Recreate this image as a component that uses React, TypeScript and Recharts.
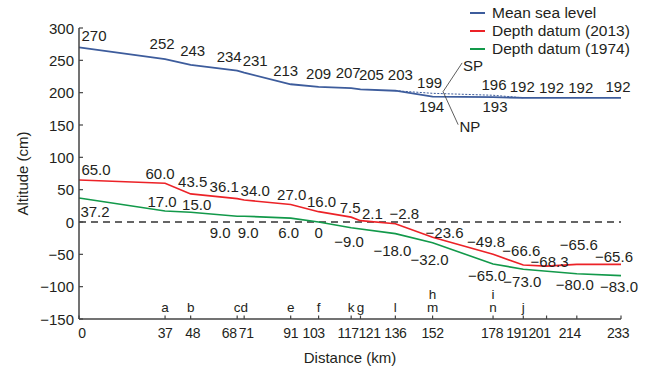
import React from "react";
import {
  LineChart,
  Line,
  XAxis,
  YAxis,
  ReferenceLine,
  ReferenceDot,
  LabelList,
} from "recharts";

// distance along the river (km)
const distance = [0, 37, 48, 68, 71, 91, 103, 117, 121, 136, 152, 178, 191, 201, 214, 233];
// mean sea level, NP branch (solid)
const meanSeaLevel = [270, 252, 243, 234, 231, 213, 209, 207, 205, 203, 194, 193, 192, 192, 192, 192];
// mean sea level, SP branch (dotted)
const meanSeaLevelSP = [null, null, null, null, null, null, null, null, null, 203, 199, 196, 192, null, null, null];
const datum2013 = [65.0, 60.0, 43.5, 36.1, 34.0, 27.0, 16.0, 7.5, 2.1, -2.8, -23.6, -49.8, -66.6, -68.3, -65.6, -65.6];
const datum1974 = [37.2, 17.0, 15.0, 9.0, 9.0, 6.0, 0, -9.0, null, -18.0, -32.0, -65.0, -73.0, null, -80.0, -83.0];

const yTicks = [-150, -100, -50, 0, 50, 100, 150, 200, 250, 300];

const siteKm = [37, 48, 68, 71, 91, 103, 117, 121, 136, 152, 178, 191];
const siteNames = ["a", "b", "c", "d", "e", "f", "k", "g", "l", "m", "n", "j"];
const upperSiteKm = [152, 178];
const upperSiteNames = ["h", "i"];

// x tick label nudges (px), so crowded labels don't collide
const xTickNudge = [3, 0, 2, -8, 2, 0, -5, -3, 9, 0, 0, -1, -6, -7, -7, -3];

// label offsets (px) from each point
const mslOffsets = [[15, -12], [-3, -16], [2, -14], [-8, -14], [11, -12], [-5, -14], [0, -13], [-3, -16], [11, -15], [5, -16], [-1, 10], [2, 9], [-1, -11], [5, -10], [4, -10], [-3, -11]];
const spOffsets = [null, null, null, null, null, null, null, null, null, null, [-3, -11], [1, -11], null, null, null, null];
const d2013Offsets = [[17, -10], [-5, -10], [2, -12], [-13, -12], [11, -10], [1, -10], [3, -10], [-1, -10], [12, -7], [9, -10], [12, -5], [-7, -13], [-2, -15], [3, -5], [2, -20], [-7, -8]];
const d1974Offsets = [[16, 14], [-3, -10], [6, -8], [-17, 16], [4, 16], [-2, 14], [0, 10], [-2, 14], null, [-3, 17], [-3, 17], [-6, 11], [-1, 12], null, [-2, 11], [-2, 11]];

const data = distance.map((d, i) => ({
  distance: d,
  msl: meanSeaLevel[i],
  sp: meanSeaLevelSP[i],
  d2013: datum2013[i],
  d1974: datum1974[i],
}));

const FONT = "'Liberation Sans', Arial, sans-serif";
const TEXT = "#231f20";
const BLUE = "#3d5c9c";
const RED = "#ec2227";
const GREEN = "#12994a";

const minus = (s: string) => s.replace("-", "\u2212");
const fmtInt = (v: number) => minus(String(v));
const fmtDec = (v: number) => (v === 0 ? "0" : minus(v.toFixed(1)));

const makeLabel = (offsets: any[], fmt: (v: number) => string) => (props: any) => {
  const { x, y, value, index } = props;
  const off = offsets[index];
  if (value == null || off == null || x == null || y == null) return null;
  return (
    <text
      x={x + off[0]}
      y={y + off[1]}
      textAnchor="middle"
      dominantBaseline="central"
      fontSize={15}
      fontFamily={FONT}
      fill={TEXT}
    >
      {fmt(value)}
    </text>
  );
};

const XTick = (props: any) => {
  const { x, y, payload, index } = props;
  const nudge = xTickNudge[index] ?? 0;
  return (
    <g>
      <line x1={x} y1={y} x2={x} y2={y - 3.5} stroke="#444" strokeWidth={1.2} />
      <text
        x={x + nudge}
        y={y + 14}
        textAnchor="middle"
        dominantBaseline="central"
        fontSize={14}
        letterSpacing={-0.4}
        fontFamily={FONT}
        fill={TEXT}
      >
        {payload.value}
      </text>
    </g>
  );
};

const YTick = (props: any) => {
  const { x, y, payload } = props;
  return (
    <g>
      <line x1={x} y1={y} x2={x + 4} y2={y} stroke="#444" strokeWidth={1.2} />
      <text x={x - 5} y={y} textAnchor="end" dominantBaseline="central" fontSize={15} fontFamily={FONT} fill={TEXT}>
        {fmtInt(payload.value)}
      </text>
    </g>
  );
};

const legendItems = [
  { name: "Mean sea level", color: BLUE },
  { name: "Depth datum (2013)", color: RED },
  { name: "Depth datum (1974)", color: GREEN },
];

const textLabel = (value: string, size = 15) => ({
  value,
  position: "center" as const,
  fontSize: size,
  fontFamily: FONT,
  fill: TEXT,
});

export default function App() {
  return (
    <div style={{ position: "absolute", left: 0, top: 0, width: 654, height: 370, background: "#fff" }}>
      <LineChart width={654} height={370} data={data} margin={{ top: 28, right: 33, left: 0, bottom: 0 }}>
        <XAxis
          dataKey="distance"
          type="number"
          domain={[0, 233]}
          ticks={distance}
          interval={0}
          height={51}
          tickSize={0}
          tickMargin={0}
          tick={<XTick />}
          axisLine={{ stroke: "#444", strokeWidth: 1.5 }}
          label={{
            content: (p: any) => (
              <text
                x={p.viewBox.x + p.viewBox.width / 2}
                y={p.viewBox.y + 38}
                textAnchor="middle"
                dominantBaseline="central"
                fontSize={15}
                fontFamily={FONT}
                fill={TEXT}
              >
                Distance (km)
              </text>
            ),
          }}
        />
        <YAxis
          type="number"
          domain={[-150, 300]}
          ticks={yTicks}
          interval={0}
          width={79}
          tickSize={0}
          tickMargin={0}
          tick={<YTick />}
          axisLine={{ stroke: "#444", strokeWidth: 1.5 }}
          label={{
            content: (p: any) => {
              const cx = 22;
              const cy = p.viewBox.y + p.viewBox.height / 2;
              return (
                <text
                  x={cx}
                  y={cy}
                  transform={`rotate(-90 ${cx} ${cy})`}
                  textAnchor="middle"
                  dominantBaseline="central"
                  fontSize={15}
                  fontFamily={FONT}
                  fill={TEXT}
                >
                  Altitude (cm)
                </text>
              );
            },
          }}
        />
        <ReferenceLine y={0} stroke="#333" strokeWidth={1.5} strokeDasharray="7 5" />

        <Line dataKey="sp" stroke={BLUE} strokeWidth={1} strokeDasharray="2 1.5" dot={false} isAnimationActive={false}>
          <LabelList dataKey="sp" content={makeLabel(spOffsets, fmtInt)} />
        </Line>
        <Line dataKey="msl" stroke={BLUE} strokeWidth={1.8} dot={false} isAnimationActive={false}>
          <LabelList dataKey="msl" content={makeLabel(mslOffsets, fmtInt)} />
        </Line>
        <Line dataKey="d2013" stroke={RED} strokeWidth={1.6} dot={false} isAnimationActive={false}>
          <LabelList dataKey="d2013" content={makeLabel(d2013Offsets, fmtDec)} />
        </Line>
        <Line dataKey="d1974" stroke={GREEN} strokeWidth={1.6} dot={false} connectNulls isAnimationActive={false}>
          <LabelList dataKey="d1974" content={makeLabel(d1974Offsets, fmtDec)} />
        </Line>

        {/* SP / NP leader lines */}
        <ReferenceLine segment={[{ x: 164.7, y: 246 }, { x: 156.5, y: 201.5 }]} stroke="#333" strokeWidth={0.8} />
        <ReferenceLine segment={[{ x: 156.5, y: 201.5 }, { x: 163, y: 150.5 }]} stroke="#333" strokeWidth={0.8} />
        <ReferenceDot x={169.4} y={241.7} r={0} stroke="none" fill="none" label={textLabel("SP")} />
        <ReferenceDot x={168} y={147} r={0} stroke="none" fill="none" label={textLabel("NP")} />

        {siteKm.map((km, i) => (
          <ReferenceDot key={`s-${i}`} x={km} y={-131} r={0} stroke="none" fill="none" label={textLabel(siteNames[i], 13.5)} />
        ))}
        {upperSiteKm.map((km, i) => (
          <ReferenceDot key={`u-${i}`} x={km} y={-112} r={0} stroke="none" fill="none" label={textLabel(upperSiteNames[i], 13.5)} />
        ))}
      </LineChart>

      <div style={{ position: "absolute", left: 470, top: 4, fontFamily: FONT, fontSize: 15.5, color: TEXT, lineHeight: "18px" }}>
        {legendItems.map((it) => (
          <div key={it.name} style={{ display: "flex", alignItems: "center", height: 18 }}>
            <span style={{ display: "inline-block", width: 15, height: 2, background: it.color, marginRight: 7 }} />
            <span>{it.name}</span>
          </div>
        ))}
      </div>
    </div>
  );
}
